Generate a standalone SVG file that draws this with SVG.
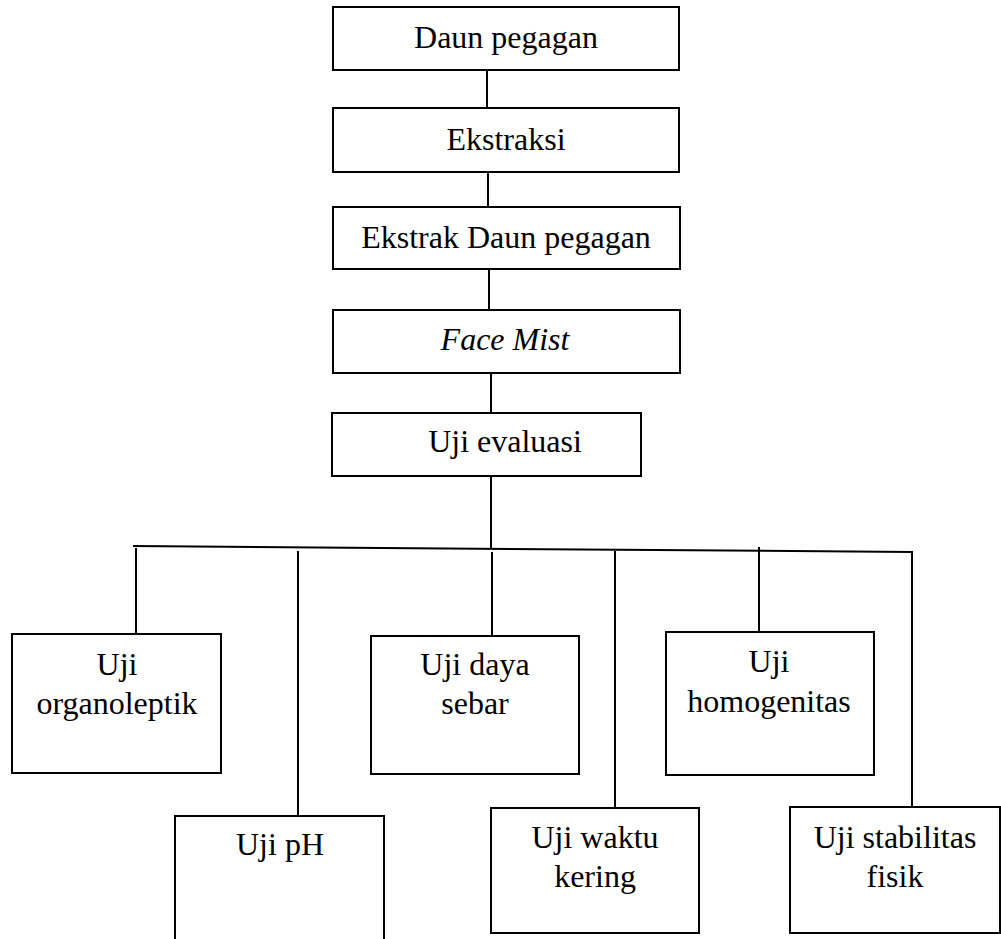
<svg xmlns="http://www.w3.org/2000/svg" width="1001" height="939" viewBox="0 0 1001 939">
<style>
.box{fill:#fff;stroke:#000;stroke-width:2}
.ln{stroke:#000;stroke-width:2;fill:none}
text{font-family:"Liberation Serif","Times New Roman",serif;font-size:32px;fill:#000;text-anchor:middle}
</style>
<rect width="1001" height="939" fill="#fff"/>
<g id="connectors">
<line class="ln" x1="487" y1="70" x2="487" y2="108"/>
<line class="ln" x1="488" y1="172" x2="488" y2="207"/>
<line class="ln" x1="489" y1="269" x2="489" y2="310"/>
<line class="ln" x1="491" y1="373" x2="491" y2="413"/>
<line class="ln" x1="491" y1="476" x2="491" y2="549"/>
<line class="ln" x1="133" y1="546" x2="912" y2="552"/>
<line class="ln" x1="136" y1="548" x2="136" y2="634"/>
<line class="ln" x1="298" y1="551" x2="298" y2="816"/>
<line class="ln" x1="492" y1="552" x2="492" y2="636"/>
<line class="ln" x1="615" y1="551" x2="615" y2="808"/>
<line class="ln" x1="759" y1="547" x2="759" y2="632"/>
<line class="ln" x1="912" y1="551" x2="912" y2="807"/>
</g>
<g id="daun"><rect class="box" x="333" y="7" width="346" height="63"/><text x="506" y="48">Daun pegagan</text></g>
<g id="ekstraksi"><rect class="box" x="333" y="108" width="346" height="64"/><text x="506" y="150">Ekstraksi</text></g>
<g id="ekstrak"><rect class="box" x="333" y="207" width="347" height="62"/><text x="506" y="248">Ekstrak Daun pegagan</text></g>
<g id="facemist"><rect class="box" x="333" y="310" width="347" height="63"/><text x="505" y="350" font-style="italic">Face Mist</text></g>
<g id="evaluasi"><rect class="box" x="332" y="413" width="309" height="63"/><text x="505" y="452">Uji evaluasi</text></g>
<g id="organoleptik"><rect class="box" x="12" y="634" width="209" height="139"/><text x="117" y="675">Uji</text><text x="117" y="714">organoleptik</text></g>
<g id="ph"><rect class="box" x="175" y="816" width="209" height="140"/><text x="280" y="855">Uji pH</text></g>
<g id="dayasebar"><rect class="box" x="371" y="636" width="208" height="138"/><text x="475" y="675">Uji daya</text><text x="475" y="714">sebar</text></g>
<g id="waktukering"><rect class="box" x="491" y="808" width="208" height="125"/><text x="595" y="848">Uji waktu</text><text x="595" y="887">kering</text></g>
<g id="homogenitas"><rect class="box" x="666" y="632" width="208" height="143"/><text x="769" y="672">Uji</text><text x="769" y="712">homogenitas</text></g>
<g id="stabilitas"><rect class="box" x="790" y="807" width="210" height="126"/><text x="895" y="848">Uji stabilitas</text><text x="895" y="887">fisik</text></g>
</svg>
